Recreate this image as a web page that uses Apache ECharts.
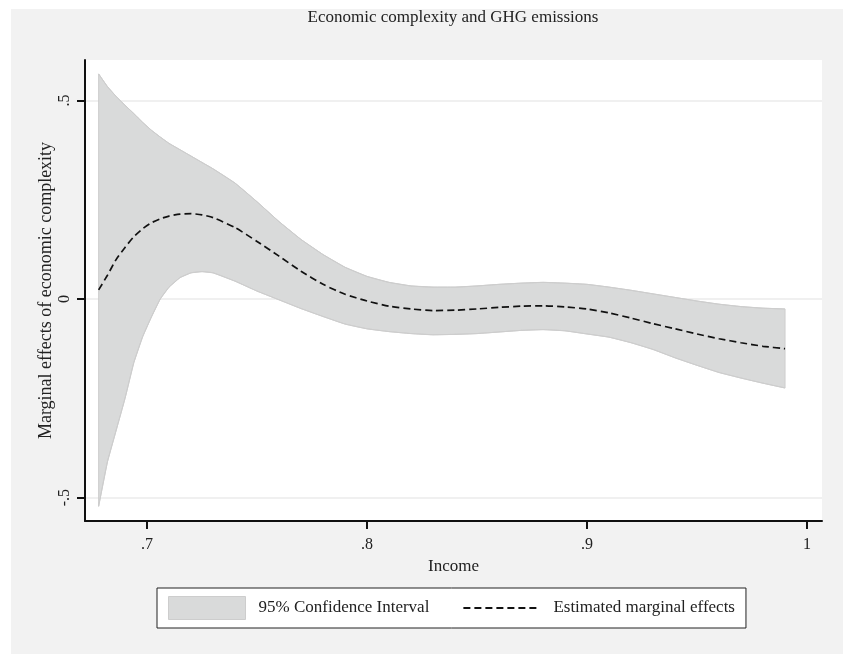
<!DOCTYPE html>
<html>
<head>
<meta charset="utf-8">
<script src="https://cdn.jsdelivr.net/npm/echarts@6/dist/echarts.min.js"></script>
<style>
  html, body { margin: 0; padding: 0; background: #fff; }
  #myChart { position: absolute; left: 11px; top: 9px; width: 832px; height: 645px; }
</style>
</head>
<body>
<div id="myChart"></div>
<script>
// income values (x)
const income = [0.678, 0.682, 0.686, 0.690, 0.694, 0.698, 0.702, 0.706, 0.710, 0.715,
  0.720, 0.725, 0.730, 0.740, 0.750, 0.760, 0.770, 0.780, 0.790, 0.800,
  0.810, 0.820, 0.830, 0.840, 0.850, 0.860, 0.870, 0.880, 0.890, 0.900,
  0.910, 0.920, 0.930, 0.940, 0.950, 0.960, 0.970, 0.980, 0.990];
// estimated marginal effects
const effect = [0.023, 0.060, 0.100, 0.130, 0.157, 0.177, 0.192, 0.202, 0.209, 0.214,
  0.215, 0.212, 0.205, 0.180, 0.145, 0.108, 0.070, 0.037, 0.012, -0.005,
  -0.018, -0.025, -0.029, -0.028, -0.025, -0.021, -0.018, -0.017, -0.020, -0.025,
  -0.035, -0.048, -0.062, -0.075, -0.088, -0.100, -0.110, -0.119, -0.125];
// 95% CI upper / lower
const ciUpper = [0.567, 0.535, 0.510, 0.488, 0.467, 0.445, 0.425, 0.408, 0.392, 0.376,
  0.360, 0.344, 0.328, 0.292, 0.245, 0.195, 0.150, 0.112, 0.080, 0.057,
  0.042, 0.033, 0.030, 0.030, 0.033, 0.037, 0.040, 0.042, 0.040, 0.037,
  0.030, 0.022, 0.013, 0.004, -0.005, -0.013, -0.019, -0.023, -0.025];
const ciLower = [-0.522, -0.410, -0.330, -0.250, -0.160, -0.095, -0.045, 0.000, 0.030, 0.054,
  0.066, 0.069, 0.066, 0.045, 0.020, -0.002, -0.024, -0.044, -0.063, -0.075,
  -0.082, -0.087, -0.090, -0.089, -0.087, -0.083, -0.079, -0.077, -0.080, -0.088,
  -0.096, -0.110, -0.127, -0.148, -0.167, -0.185, -0.199, -0.212, -0.224];

const xTicks = [0.7, 0.8, 0.9, 1];
const xTickLabels = [".7", ".8", ".9", "1"];
const yTicks = [-0.5, 0, 0.5];
const yTickLabels = ["-.5", "0", ".5"];

const font = "Liberation Serif";
const bandFill = "#d9dada";
const bandEdge = "#cdcdcd";

let myChart = echarts.init(document.getElementById("myChart"));
myChart.setOption({
  backgroundColor: "#f2f2f2",
  animation: false,
  textStyle: { fontFamily: font },
  title: {
    text: "Economic complexity and GHG emissions",
    left: 442,
    top: 0,
    padding: 0,
    textAlign: "center",
    textStyle: { fontFamily: font, fontWeight: "normal", fontSize: 17, color: "#222" },
  },
  grid: {
    left: 74,
    right: 21,
    top: 51,
    bottom: 133,
    show: true,
    backgroundColor: "#fff",
    borderWidth: 0,
  },
  legend: {
    left: 146,
    top: 579,
    padding: [8, 11],
    itemGap: 33,
    itemWidth: 77,
    itemHeight: 23,
    borderColor: "#222",
    borderWidth: 1,
    backgroundColor: "#fff",
    textStyle: { fontFamily: font, fontSize: 17, color: "#222", padding: [0, 0, 0, 8] },
    data: [
      { name: "95% Confidence Interval", icon: "rect",
        itemStyle: { color: bandFill, borderColor: bandEdge, borderWidth: 1 } },
      // hide the symbol that line legends put in the middle
      { name: "Estimated marginal effects", itemStyle: { opacity: 0 } },
    ],
  },
  xAxis: {
    type: "value",
    min: 0.6718,
    max: 1.0068,
    name: "Income",
    nameLocation: "middle",
    nameGap: 37,
    nameMoveOverlap: false,
    nameTextStyle: { fontFamily: font, fontSize: 17, color: "#222" },
    axisLine: { onZero: false, lineStyle: { color: "#111", width: 2 } },
    axisTick: { show: true, length: 8, lineStyle: { color: "#111", width: 2 }, customValues: xTicks },
    axisLabel: {
      customValues: xTicks,
      margin: 16,
      fontFamily: font,
      fontSize: 16,
      color: "#222",
      formatter: (v) => xTickLabels[xTicks.findIndex((t) => Math.abs(t - v) < 1e-9)],
    },
    splitLine: { show: false },
  },
  yAxis: {
    type: "value",
    min: -0.559,
    max: 0.602,
    name: "Marginal effects of economic complexity",
    nameLocation: "middle",
    nameGap: 30,
    nameMoveOverlap: false,
    nameTextStyle: { fontFamily: font, fontSize: 18, color: "#222" },
    axisLine: { show: true, onZero: false, lineStyle: { color: "#111", width: 2 } },
    axisTick: { show: true, length: 8, lineStyle: { color: "#111", width: 2 }, customValues: yTicks },
    axisLabel: {
      customValues: yTicks,
      rotate: 90,
      margin: 12,
      fontFamily: font,
      fontSize: 16,
      color: "#222",
      formatter: (v) => yTickLabels[yTicks.findIndex((t) => Math.abs(t - v) < 1e-9)],
    },
    splitLine: { show: true, lineStyle: { color: "#ebebeb", width: 1.5 } },
  },
  series: [
    {
      // the shaded band, one polygon from upper (forward) and lower (back)
      name: "95% Confidence Interval",
      type: "custom",
      itemStyle: { color: bandFill },
      encode: { x: 0, y: [1, 2] },
      data: income.map((x, i) => [x, ciLower[i], ciUpper[i]]),
      renderItem: function (params, api) {
        if (params.dataIndex !== 0) return;
        const pts = [];
        for (let i = 0; i < income.length; i++) pts.push(api.coord([income[i], ciUpper[i]]));
        for (let i = income.length - 1; i >= 0; i--) pts.push(api.coord([income[i], ciLower[i]]));
        return {
          type: "polygon",
          shape: { points: pts },
          style: { fill: bandFill, stroke: bandEdge, lineWidth: 1 },
        };
      },
      z: 1,
    },
    {
      name: "ciUpperEdge",
      type: "line",
      smooth: 0.2,
      symbol: "none",
      lineStyle: { color: bandEdge, width: 1 },
      data: income.map((x, i) => [x, ciUpper[i]]),
      z: 2,
    },
    {
      name: "ciLowerEdge",
      type: "line",
      smooth: 0.2,
      symbol: "none",
      lineStyle: { color: bandEdge, width: 1 },
      data: income.map((x, i) => [x, ciLower[i]]),
      z: 2,
    },
    {
      name: "Estimated marginal effects",
      type: "line",
      smooth: 0.2,
      symbol: "none",
      lineStyle: { color: "#111", width: 1.7, type: [7, 4] },
      itemStyle: { color: "#111" },
      data: income.map((x, i) => [x, effect[i]]),
      z: 3,
    },
  ],
});
</script>
</body>
</html>
